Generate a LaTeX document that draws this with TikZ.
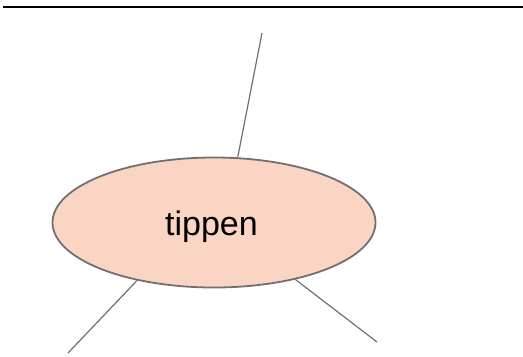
\documentclass[tikz,border=0pt]{standalone}
\usepackage{fontspec}
\setmainfont{Liberation Sans}
\usetikzlibrary{shapes.geometric}
\definecolor{peach}{HTML}{FBD5C3}
\definecolor{edgegray}{HTML}{707070}
\begin{document}
\begin{tikzpicture}[x=1bp,y=-1bp,
  topic/.style={ellipse, draw=edgegray, fill=peach, line width=1.8bp,
    minimum width=323bp, minimum height=130bp, inner sep=0pt,
    font=\fontsize{34bp}{40bp}\selectfont, text height=32bp, text depth=7bp},
  link/.style={draw=edgegray, line width=1.2bp},
  rulebar/.style={draw=black, line width=1.6bp}]
\useasboundingbox (0,0) rectangle (523,356);
\coordinate (ruleL) at (3,7);
\coordinate (ruleR) at (523,7);
\draw[rulebar] (ruleL) -- (ruleR);
\node[topic] (tip) at (214,222.5) {\hspace*{-5bp}tippen};
\coordinate (up) at (262,33);
\coordinate (dl) at (68,353);
\coordinate (dr) at (377,342);
\draw[link] (tip.70.6) -- (up);
\draw[link] (tip.217.3) -- (dl);
\draw[link] (tip.325.6) -- (dr);
\end{tikzpicture}
\end{document}
